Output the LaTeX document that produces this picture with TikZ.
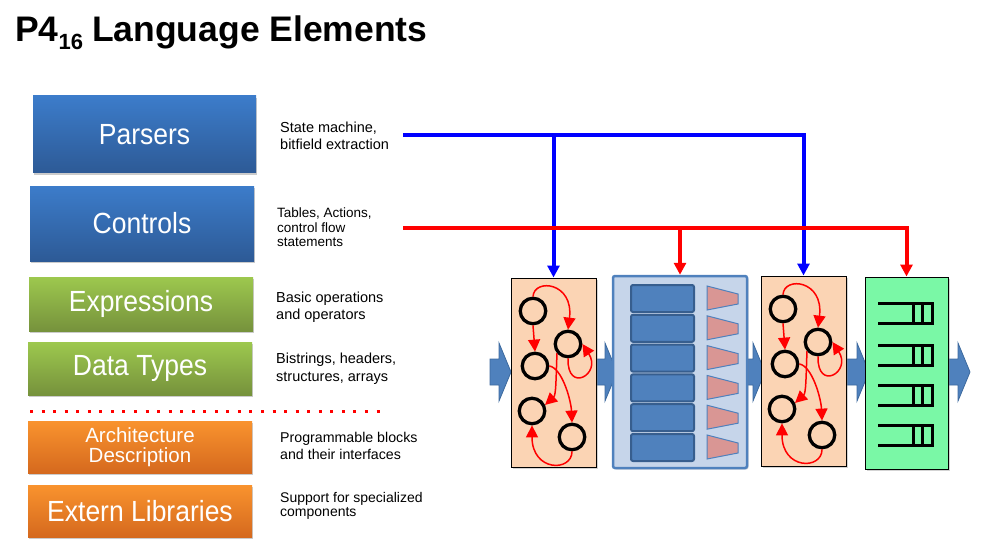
\documentclass[tikz,border=0pt]{standalone}
\usepackage{fontspec}
\setmainfont{Liberation Sans}
\usetikzlibrary{arrows.meta,shadows}
\definecolor{bluT}{HTML}{3C7CCA}
\definecolor{bluB}{HTML}{2D5A96}
\definecolor{grnT}{HTML}{9DC84E}
\definecolor{grnB}{HTML}{76923C}
\definecolor{orgT}{HTML}{F9932E}
\definecolor{orgB}{HTML}{D5691E}
\definecolor{peach}{HTML}{FBD4B4}
\definecolor{tabfill}{HTML}{C6D5EA}
\definecolor{tabline}{HTML}{4F81BD}
\definecolor{rowfill}{HTML}{4F81BD}
\definecolor{rowline}{HTML}{375E8E}
\definecolor{trap}{HTML}{D99694}
\definecolor{depfill}{HTML}{7AF8A6}
\definecolor{arrfill}{HTML}{4F81BD}
\definecolor{arrline}{HTML}{3D6A9E}
\definecolor{pureblue}{HTML}{0000FF}
\newcommand\parsergraph[1]{%
  \node[st] (#1a) at (533,311) {};
  \node[st] (#1b) at (568,344) {};
  \node[st] (#1c) at (535,366) {};
  \node[st] (#1d) at (532,411) {};
  \node[st] (#1e) at (572,437) {};
  \draw[parr] (#1a.north) .. controls (534,278) and (574,282) .. (#1b.north);
  \draw[parr] (#1a.south) -- (#1c.north);
  \draw[parr] (#1b.south) .. controls (567,394) and (602,374) .. (#1b.east);
  \draw[parr] (#1b.220) .. controls (556,380) and (556,395) .. (#1d.25);
  \draw[parr] (#1c.east) .. controls (562,368) and (571,400) .. (#1e.north);
  \draw[parr] (#1e.south) .. controls (572,472) and (532,472) .. (#1d.south);
}
\newcommand\blockarrow[2]{%
  \filldraw[bigarr] (#1,359) -- (#2-12,359) -- (#2-12,343) -- (#2,372) -- (#2-12,401) -- (#2-12,385) -- (#1,385) -- cycle;
}
\newcommand\tallbox[1]{\scalebox{1}[1.1]{#1}}
\begin{document}
\begin{tikzpicture}[x=1pt,y=-1pt,
  lbox/.style={inner sep=0pt, text=white, align=center,
    drop shadow={shadow xshift=1pt,shadow yshift=-2pt,opacity=0.45,fill=black!45}},
  bluebox/.style={lbox, top color=bluT, bottom color=bluB},
  greenbox/.style={lbox, top color=grnT, bottom color=grnB},
  orangebox/.style={lbox, top color=orgT, bottom color=orgB},
  big/.style={font=\fontsize{26.5}{26.5}\selectfont},
  desc/.style={anchor=north west, inner sep=0pt, align=left, font=\fontsize{14.5}{17.5}\selectfont},
  pblock/.style={draw=black, line width=1pt, fill=peach, inner sep=0pt,
    drop shadow={shadow xshift=1.5pt,shadow yshift=-1.5pt,opacity=0.35,fill=black!50}},
  st/.style={circle, draw=black, line width=3.3pt, minimum size=25.5pt, inner sep=0pt},
  parr/.style={red, line width=1.5pt, -{Triangle[length=12pt,width=12pt]}},
  bigarr/.style={fill=arrfill, draw=arrline, line width=0.8pt},
  bluecon/.style={draw=pureblue, line width=4pt, -{Triangle[length=12pt,width=12pt]}},
  redcon/.style={draw=red, line width=4pt, -{Triangle[length=12pt,width=12pt]}},
  depline/.style={line width=3pt, draw=black}
]
\useasboundingbox (0,0) rectangle (984,540);

% title
\node[anchor=base west, inner sep=0pt, font=\fontsize{35.5}{35.5}\selectfont\bfseries] (title) at (15,42)
  {P4\raisebox{-8pt}{\fontsize{22}{22}\selectfont 16}\hspace{9pt}Language Elements};

% left boxes
\node[bluebox, big, minimum width=223pt, minimum height=77pt] (parsers) at (144.5,134.5) {\tallbox{Parsers}};
\node[bluebox, big, minimum width=224pt, minimum height=75pt] (controls) at (142,223.5) {\tallbox{Controls}};
\node[greenbox, big, minimum width=224pt, minimum height=54pt] (expr) at (141,304) {\tallbox{Expressions}};
\node[greenbox, big, minimum width=224pt, minimum height=53pt] (dtypes) at (140,368.5) {\tallbox{Data Types}};
\node[orangebox, font=\fontsize{20.5}{20}\selectfont, minimum width=224pt, minimum height=52pt] (arch) at (140,447) {Architecture\\Description};
\node[orangebox, big, minimum width=224pt, minimum height=52pt] (extern) at (140,511) {\tallbox{Extern Libraries}};

% dotted separator
\coordinate (dotA) at (30,411);
\coordinate (dotB) at (380,411);
\draw[red, line width=3pt, dash pattern=on 3pt off 8.55pt] (dotA) -- (dotB);

% descriptions
\node[desc] (dparsers) at (280,121.5) {State machine,\\bitfield extraction};
\node[desc, font=\fontsize{13.5}{14.5}\selectfont] (dcontrols) at (277,208) {Tables, Actions,\\control flow\\statements};
\node[desc, font=\fontsize{14.5}{17.3}\selectfont] (dexpr) at (276,291.5) {Basic operations\\and operators};
\node[desc, font=\fontsize{14.5}{17.4}\selectfont] (ddtypes) at (276,353) {Bistrings, headers,\\structures, arrays};
\node[desc, font=\fontsize{14.2}{16.7}\selectfont] (darch) at (280,432) {Programmable blocks\\and their interfaces};
\node[desc, font=\fontsize{14}{14.6}\selectfont] (dextern) at (280,492) {Support for specialized\\components};

% big block arrows (behind the blocks)
\blockarrow{490}{511}
\blockarrow{590}{617}
\blockarrow{740}{765}
\blockarrow{840}{869}
\blockarrow{945}{970}

% right blocks
\node[pblock, minimum width=85pt, minimum height=189pt] (p1) at (553.5,372.5) {};
\node[draw=tabline, line width=2.5pt, fill=tabfill, rounded corners=2pt, inner sep=0pt,
  minimum width=134pt, minimum height=192pt,
  drop shadow={shadow xshift=1.5pt,shadow yshift=-1.5pt,opacity=0.3,fill=black!50}] (table) at (680,372) {};
\node[pblock, minimum width=85pt, minimum height=190pt] (p2) at (803.5,371) {};
\node[pblock, fill=depfill, minimum width=83pt, minimum height=192pt] (dep) at (906.5,373) {};

% table rows
\foreach \i in {0,...,5}{
  \pgfmathsetmacro{\yt}{285+29.8*\i}
  \draw[fill=rowfill, draw=rowline, line width=2pt, rounded corners=2pt] (631,\yt) rectangle (694,\yt+27);
  \draw[fill=trap, draw=tabline, line width=1pt] (707,\yt+1) -- (738,\yt+9) -- (738,\yt+19) -- (707,\yt+25) -- cycle;
}

% deparser glyphs
\foreach \y in {303,345,385,425}{
  \draw[depline] (878,\y) -- (932,\y) -- (932,\y+20) -- (878,\y+20);
  \draw[depline] (913,\y) -- (913,\y+20);
  \draw[depline] (922,\y) -- (922,\y+20);
}

% parser state graphs
\parsergraph{s}
\begin{scope}[shift={(250,-2)}]
\parsergraph{t}
\end{scope}

% connectors
\coordinate (bstart) at (403,135);
\coordinate (rstart) at (403,228);
\draw[bluecon] (bstart) -| (p1.north);
\draw[bluecon] (bstart) -| (p2.north);
\draw[redcon] (rstart) -| (table.north);
\draw[redcon] (rstart) -| (dep.north);
\end{tikzpicture}
\end{document}
